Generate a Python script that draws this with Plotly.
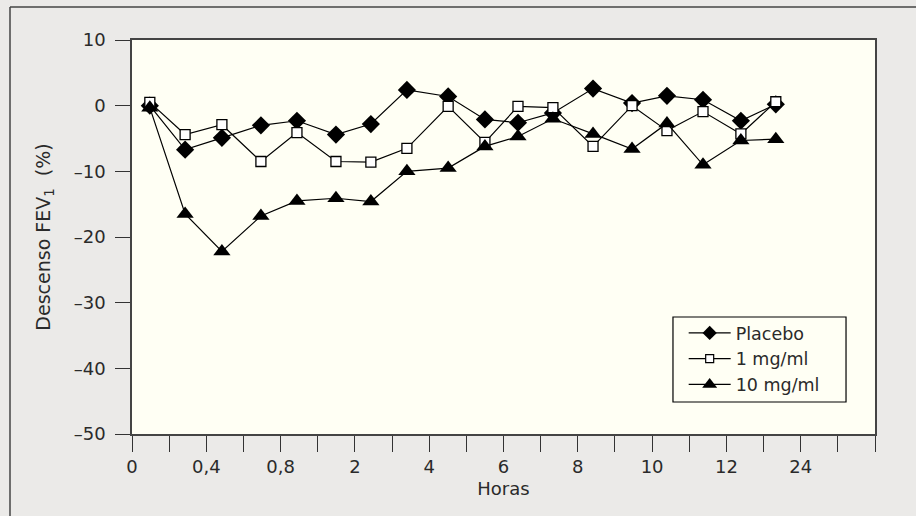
import plotly.graph_objects as go

# x positions on the evenly spaced (categorical-like) time axis, in tick units
x_pos = [0.48, 1.43, 2.42, 3.47, 4.44, 5.49, 6.43, 7.40, 8.51, 9.50,
         10.39, 11.33, 12.41, 13.46, 14.40, 15.37, 16.39, 17.33]

placebo = [0.0, -6.7, -4.9, -3.0, -2.3, -4.4, -2.8, 2.4, 1.4, -2.1,
           -2.6, -1.1, 2.6, 0.4, 1.5, 0.9, -2.3, 0.2]
mg1 = [0.5, -4.4, -2.9, -8.5, -4.1, -8.5, -8.6, -6.5, -0.1, -5.6,
       -0.1, -0.3, -6.2, 0.0, -3.8, -0.9, -4.3, 0.6]
mg10 = [-0.3, -16.5, -22.2, -16.8, -14.5, -14.1, -14.6, -10.0, -9.5, -6.2,
        -4.7, -2.0, -4.3, -6.6, -2.7, -9.0, -5.3, -5.1]

series_names = ["Placebo", "1 mg/ml", "10 mg/ml"]
x_tick_labels = ["0", "0,4", "0,8", "2", "4", "6", "8", "10", "12", "24"]
y_ticks = [10, 0, -10, -20, -30, -40, -50]
y_tick_labels = ["10", "0", "–10", "–20", "–30", "–40", "–50"]

x_tickvals = list(range(0, 21))
x_ticktext = []
for i in x_tickvals:
    if i % 2 == 0 and i // 2 < len(x_tick_labels):
        x_ticktext.append(x_tick_labels[i // 2])
    else:
        x_ticktext.append("")

line = dict(color="black", width=1.2)
markers = [
    dict(symbol="diamond", size=14, color="black"),
    dict(symbol="square", size=10, color="white", line=dict(color="black", width=1.3)),
    dict(symbol="triangle-up", size=15, color="black"),
]
legend_markers = [
    dict(symbol="diamond", size=11, color="black"),
    dict(symbol="square", size=8, color="white", line=dict(color="black", width=1.2)),
    dict(symbol="triangle-up", size=13, color="black"),
]

fig = go.Figure()
for name, ys, mk in zip(series_names, [placebo, mg1, mg10], markers):
    fig.add_trace(go.Scatter(x=x_pos, y=ys, name=name, mode="lines+markers",
                             line=line, marker=mk, showlegend=False))
# legend entries (no data points drawn)
for name, mk in zip(series_names, legend_markers):
    fig.add_trace(go.Scatter(x=[None], y=[None], name=name, mode="lines+markers",
                             line=line, marker=mk, showlegend=True))

font_color = "#2a2a2a"
font_family = "DejaVu Sans, sans-serif"
fig.update_layout(
    width=916, height=516,
    margin=dict(l=132, r=41, t=40, b=82),
    paper_bgcolor="#ebeae8",
    plot_bgcolor="#fffff4",
    font=dict(family=font_family, size=18, color=font_color),
    showlegend=True,
    legend=dict(x=0.7425, y=0.302, xanchor="left", yanchor="top",
                bgcolor="rgba(0,0,0,0)", borderwidth=0,
                font=dict(size=17.5, color=font_color, family=font_family),
                tracegroupgap=0, itemwidth=42),
    hovermode=False,
    shapes=[
        dict(type="line", xref="paper", yref="paper", x0=-0.1642, x1=-0.1642,
             y0=1.0838, y1=-0.21, line=dict(color="#444444", width=1.5)),
        dict(type="line", xref="paper", yref="paper", x0=-0.1642, x1=1.06,
             y0=1.0838, y1=1.0838, line=dict(color="#444444", width=1.5)),
        dict(type="rect", xref="paper", yref="paper", x0=0.7281, x1=0.961,
             y0=0.0812, y1=0.297, line=dict(color="black", width=1.2),
             fillcolor="#fffff4", layer="below"),
    ],
)
fig.update_xaxes(
    range=[0, 20], tickmode="array", tickvals=x_tickvals, ticktext=x_ticktext,
    ticks="outside", ticklen=16, tickwidth=1.3, tickcolor="#333333",
    showline=True, linecolor="#444444", linewidth=1.5, mirror=True,
    showgrid=False, zeroline=False,
    title=dict(text="Horas", standoff=6, font=dict(size=18, color=font_color)),
    tickfont=dict(size=18, color=font_color),
)
fig.update_yaxes(
    range=[-50, 10], tickmode="array", tickvals=y_ticks, ticktext=y_tick_labels,
    ticks="outside", ticklen=15, tickwidth=1.3, tickcolor="#333333",
    showline=True, linecolor="#444444", linewidth=1.5, mirror=True,
    showgrid=False, zeroline=False, ticklabelstandoff=6,
    title=dict(text="Descenso FEV<sub>1</sub>\u00a0 (%)", standoff=18,
               font=dict(size=19, color=font_color)),
    tickfont=dict(size=18, color=font_color),
)

fig.write_html(
    "out.html",
    config=dict(displayModeBar=False),
    post_script="document.body.style.margin='0';document.body.style.background='#ebeae8';",
)
